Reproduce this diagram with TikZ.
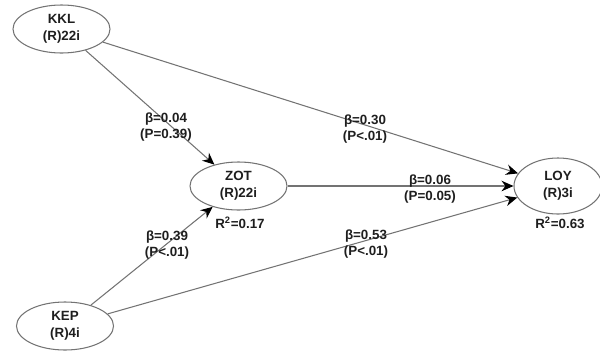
\documentclass[tikz,border=0pt]{standalone}
\usepackage{fontspec}
\setmainfont{Liberation Sans}
\usepackage{tikz}
\usetikzlibrary{
arrows.meta,
positioning,
shapes.geometric
}
\definecolor{pathgray}{RGB}{115,115,115}
\definecolor{textdark}{RGB}{30,30,30}

\begin{document}
\begin{tikzpicture}[
  x=0.025cm, y=-0.025cm,
  every node/.style={font=\fontsize{9.5}{12}\selectfont\bfseries, text=textdark},
  construct/.style={draw=pathgray, line width=0.75pt, ellipse,
                    minimum width=2.425cm, minimum height=1.2cm,
                    inner sep=0pt, align=center},
  coeff/.style={align=center, inner sep=1pt},
  effect/.style={-{Stealth[color=black, length=8.5pt, width=7.5pt]},
                 draw=pathgray, line width=0.75pt}
]
\useasboundingbox (0,0) rectangle (600,351);

%% ── CONSTRUCTS ───────────────────────────────────────────────
\node[construct] (kkl) at (61.5, 29) {KKL\\(R)22i};
\node[construct] (kep) at (65, 326)  {KEP\\(R)4i};
\node[construct] (zot) at (238.5, 186) {ZOT\\(R)22i};
\node[construct, minimum width=2.2cm, minimum height=1.4cm]
  (loy) at (558, 186) {LOY\\(R)3i};

%% R-squared
\node[coeff] (zotr) at (240, 223) {R$^{\mathbf{2}}$=0.17};
\node[coeff] (loyr) at (560, 223) {R$^{\mathbf{2}}$=0.63};

%% ── PATHS ────────────────────────────────────────────────────
\draw[effect] (kkl) -- (zot);
\draw[effect] (kkl) -- (loy);
\draw[effect] (zot) -- (loy);
\draw[effect] (kep) -- (zot);
\draw[effect] (kep) -- (loy);

%% Path coefficients
\node[coeff] (c1) at (166, 127) {β=0.04\\(P=0.39)};
\node[coeff] (c2) at (365, 129) {β=0.30\\(P<.01)};
\node[coeff] (c3) at (430, 189) {β=0.06\\(P=0.05)};
\node[coeff] (c4) at (167, 245) {β=0.39\\(P<.01)};
\node[coeff] (c5) at (366, 244) {β=0.53\\(P<.01)};

\end{tikzpicture}
\end{document}
